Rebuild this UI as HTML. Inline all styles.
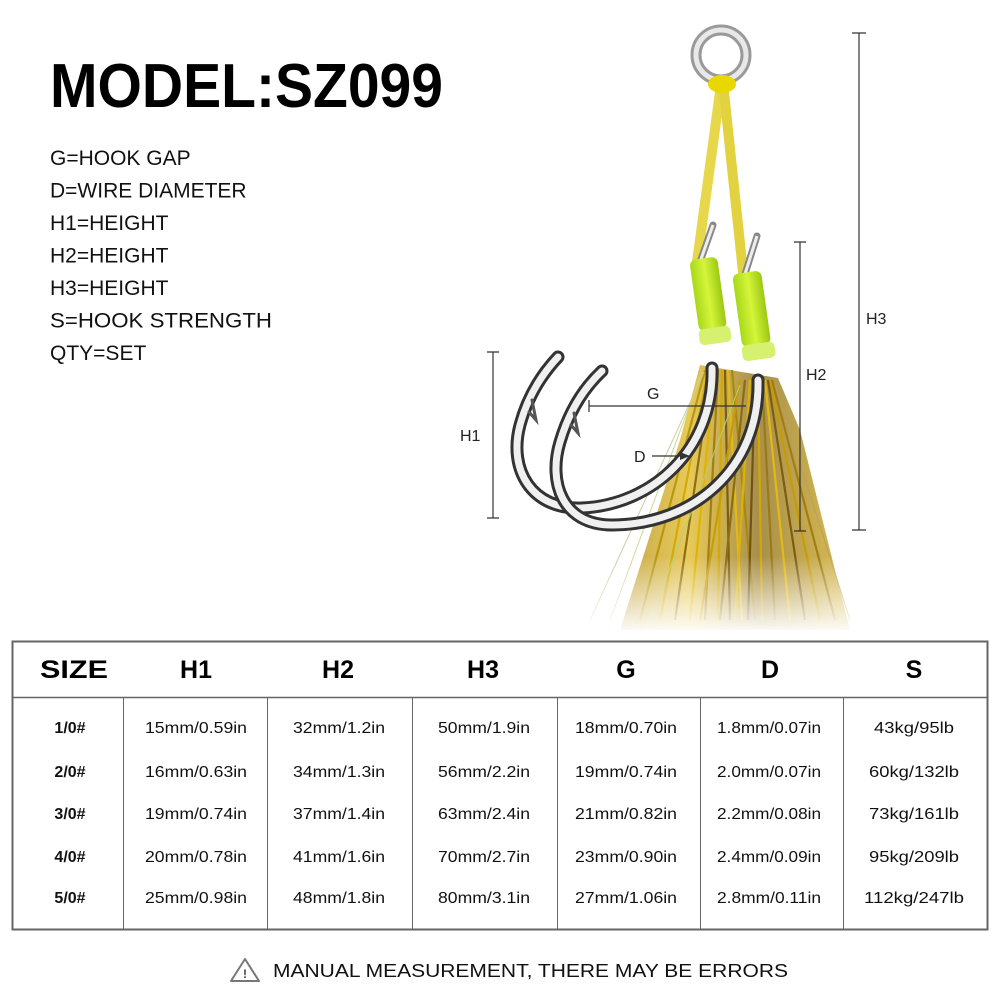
<!DOCTYPE html>
<html><head><meta charset="utf-8"><style>
html,body{margin:0;padding:0;background:#fff;width:1000px;height:1000px;overflow:hidden}
svg{display:block}
</style></head><body>
<svg width="1000" height="1000" viewBox="0 0 1000 1000" xmlns="http://www.w3.org/2000/svg" font-family="'Liberation Sans', sans-serif">
<defs>
<linearGradient id="fade" x1="0" y1="0" x2="0" y2="1">
<stop offset="0" stop-color="#fff" stop-opacity="0"/>
<stop offset="0.55" stop-color="#fff" stop-opacity="0"/>
<stop offset="1" stop-color="#fff" stop-opacity="1"/>
</linearGradient>
<linearGradient id="wrap" x1="0" y1="0" x2="1" y2="0">
<stop offset="0" stop-color="#a8d81a"/><stop offset="0.5" stop-color="#d4f53a"/><stop offset="1" stop-color="#9cc812"/>
</linearGradient>
<linearGradient id="gold" x1="0" y1="0" x2="1" y2="0">
<stop offset="0" stop-color="#b08a10"/><stop offset="0.3" stop-color="#e0b820"/><stop offset="0.6" stop-color="#8a6a10"/><stop offset="1" stop-color="#d0a818"/>
</linearGradient>
</defs>
<rect width="1000" height="1000" fill="#fff"/>

<text x="50" y="107" font-size="62" font-weight="bold" textLength="393" lengthAdjust="spacingAndGlyphs" fill="#000">MODEL:SZ099</text>
<g font-size="21" fill="#111">
<text x="50" y="165">G=HOOK GAP</text>
<text x="50" y="197.5">D=WIRE DIAMETER</text>
<text x="50" y="230">H1=HEIGHT</text>
<text x="50" y="262.5">H2=HEIGHT</text>
<text x="50" y="295">H3=HEIGHT</text>
<text x="50" y="327.5" textLength="222" lengthAdjust="spacingAndGlyphs">S=HOOK STRENGTH</text>
<text x="50" y="360">QTY=SET</text>
</g>

<!-- tassel -->
<path d="M700 365 L778 378 L800 430 L850 630 L620 630 L680 440 Z" fill="url(#gold)" opacity="0.75"/>
<g stroke-width="2.2" fill="none" opacity="0.95">
<path d="M705 370 L640 620" stroke="#b8960a"/>
<path d="M708 370 L660 620" stroke="#d6a900"/>
<path d="M712 370 L675 620" stroke="#8a6a10"/>
<path d="M715 370 L690 620" stroke="#e0b400"/>
<path d="M718 370 L705 620" stroke="#a07c10"/>
<path d="M722 370 L718 620" stroke="#d4a800"/>
<path d="M725 370 L730 620" stroke="#7a5a10"/>
<path d="M728 370 L742 620" stroke="#e6bb10"/>
<path d="M732 370 L755 620" stroke="#a8880c"/>
<path d="M740 380 L700 620" stroke="#c89c00"/>
<path d="M745 380 L720 620" stroke="#8a6a10"/>
<path d="M750 380 L735 620" stroke="#e0b400"/>
<path d="M755 380 L748 620" stroke="#6e5010"/>
<path d="M758 380 L762 620" stroke="#d6a900"/>
<path d="M762 380 L775 620" stroke="#9a7a10"/>
<path d="M765 380 L790 620" stroke="#e6bb10"/>
<path d="M768 380 L805 620" stroke="#7a5a10"/>
<path d="M770 380 L820 620" stroke="#c89c00"/>
<path d="M772 380 L835 620" stroke="#a07c10"/>
<path d="M702 372 L610 620" stroke="#c8d890" stroke-width="1"/>
<path d="M704 372 L590 620" stroke="#d0c8a0" stroke-width="1"/>
<path d="M740 385 L650 620" stroke="#b0d080" stroke-width="1"/>
<path d="M775 385 L850 620" stroke="#b8a060" stroke-width="1"/>
</g>
<rect x="560" y="460" width="320" height="175" fill="url(#fade)"/>

<!-- cord -->
<path d="M720 92 L697 262" stroke="#e6d84a" stroke-width="10" stroke-linecap="round" fill="none"/>
<path d="M724 92 L743 272" stroke="#e2d240" stroke-width="10" stroke-linecap="round" fill="none"/>
<!-- ring -->
<circle cx="721" cy="55" r="25" fill="none" stroke="#9a9a9a" stroke-width="11"/>
<circle cx="721" cy="55" r="25" fill="none" stroke="#e8e8e8" stroke-width="5"/>
<ellipse cx="722" cy="84" rx="14" ry="9" fill="#e8d800"/>
<!-- wires -->
<path d="M713 225 L700 262" stroke="#888" stroke-width="7" stroke-linecap="round"/>
<path d="M713 225 L700 262" stroke="#eee" stroke-width="3"/>
<path d="M757 236 L745 274" stroke="#888" stroke-width="7" stroke-linecap="round"/>
<path d="M757 236 L745 274" stroke="#eee" stroke-width="3"/>

<!-- hooks -->
<g fill="none" stroke-linecap="round">
<path d="M712 368 C714 450 652 505 582 508 C532 510 508 470 520 425 C528 395 543 373 558 357" stroke="#333" stroke-width="13"/>
<path d="M712 368 C714 450 652 505 582 508 C532 510 508 470 520 425 C528 395 543 373 558 357" stroke="#f0f0f0" stroke-width="7"/>
<path d="M758 380 C760 470 692 525 612 525 C562 525 548 482 560 442 C570 408 586 386 602 371" stroke="#333" stroke-width="13"/>
<path d="M758 380 C760 470 692 525 612 525 C562 525 548 482 560 442 C570 408 586 386 602 371" stroke="#f0f0f0" stroke-width="7"/>
<path d="M532 400 L536 420 L529 412" stroke="#555" stroke-width="3"/>
<path d="M574 413 L578 433 L571 425" stroke="#555" stroke-width="3"/>
</g>

<!-- wraps -->
<g transform="rotate(-8 709 300)"><rect x="695" y="258" width="28" height="72" rx="6" fill="url(#wrap)"/><rect x="694" y="328" width="32" height="16" rx="5" fill="#d6f070"/></g>
<g transform="rotate(-8 752 315)"><rect x="738" y="272" width="29" height="74" rx="6" fill="url(#wrap)"/><rect x="737" y="344" width="33" height="16" rx="5" fill="#d6f070"/></g>

<!-- dimension lines -->
<g stroke="#333" stroke-width="1.2" fill="none">
<path d="M859 33 V530 M852 33 H866 M852 530 H866"/>
<path d="M800 242 V531 M794 242 H806 M794 531 H806"/>
<path d="M493 352 V518 M487 352 H499 M487 518 H499"/>
<path d="M589 406 H746 M589 400 V412"/>
<path d="M652 456 H683"/>
</g>
<path d="M690 456 L680 452 L680 460 Z" fill="#333"/>
<g font-size="16" fill="#222">
<text x="866" y="324">H3</text>
<text x="806" y="380">H2</text>
<text x="460" y="441">H1</text>
<text x="647" y="399">G</text>
<text x="634" y="462">D</text>
</g>

<!-- table -->
<rect x="12.5" y="641.5" width="975" height="288" fill="none" stroke="#666" stroke-width="2"/>
<line x1="12" y1="697.5" x2="988" y2="697.5" stroke="#666" stroke-width="1.5"/>
<g stroke="#666" stroke-width="1">
<line x1="123.5" y1="698" x2="123.5" y2="929"/>
<line x1="267.5" y1="698" x2="267.5" y2="929"/>
<line x1="412.5" y1="698" x2="412.5" y2="929"/>
<line x1="557.5" y1="698" x2="557.5" y2="929"/>
<line x1="700.5" y1="698" x2="700.5" y2="929"/>
<line x1="843.5" y1="698" x2="843.5" y2="929"/>
</g>
<g font-size="25" font-weight="bold" text-anchor="middle" fill="#000">
<text x="74" y="678" textLength="68" lengthAdjust="spacingAndGlyphs">SIZE</text>
<text x="196" y="678">H1</text>
<text x="338" y="678">H2</text>
<text x="483" y="678">H3</text>
<text x="626" y="678">G</text>
<text x="770" y="678">D</text>
<text x="914" y="678">S</text>
</g>
<g font-size="16" text-anchor="middle" fill="#111">
<g font-weight="bold">
<text x="70" y="733">1/0#</text><text x="70" y="777">2/0#</text><text x="70" y="819">3/0#</text><text x="70" y="862">4/0#</text><text x="70" y="903">5/0#</text>
</g>
<text x="196" y="733" textLength="102" lengthAdjust="spacingAndGlyphs">15mm/0.59in</text>
<text x="196" y="777" textLength="102" lengthAdjust="spacingAndGlyphs">16mm/0.63in</text>
<text x="196" y="819" textLength="102" lengthAdjust="spacingAndGlyphs">19mm/0.74in</text>
<text x="196" y="862" textLength="102" lengthAdjust="spacingAndGlyphs">20mm/0.78in</text>
<text x="196" y="903" textLength="102" lengthAdjust="spacingAndGlyphs">25mm/0.98in</text>
<text x="339" y="733" textLength="92" lengthAdjust="spacingAndGlyphs">32mm/1.2in</text>
<text x="339" y="777" textLength="92" lengthAdjust="spacingAndGlyphs">34mm/1.3in</text>
<text x="339" y="819" textLength="92" lengthAdjust="spacingAndGlyphs">37mm/1.4in</text>
<text x="339" y="862" textLength="92" lengthAdjust="spacingAndGlyphs">41mm/1.6in</text>
<text x="339" y="903" textLength="92" lengthAdjust="spacingAndGlyphs">48mm/1.8in</text>
<text x="484" y="733" textLength="92" lengthAdjust="spacingAndGlyphs">50mm/1.9in</text>
<text x="484" y="777" textLength="92" lengthAdjust="spacingAndGlyphs">56mm/2.2in</text>
<text x="484" y="819" textLength="92" lengthAdjust="spacingAndGlyphs">63mm/2.4in</text>
<text x="484" y="862" textLength="92" lengthAdjust="spacingAndGlyphs">70mm/2.7in</text>
<text x="484" y="903" textLength="92" lengthAdjust="spacingAndGlyphs">80mm/3.1in</text>
<text x="626" y="733" textLength="102" lengthAdjust="spacingAndGlyphs">18mm/0.70in</text>
<text x="626" y="777" textLength="102" lengthAdjust="spacingAndGlyphs">19mm/0.74in</text>
<text x="626" y="819" textLength="102" lengthAdjust="spacingAndGlyphs">21mm/0.82in</text>
<text x="626" y="862" textLength="102" lengthAdjust="spacingAndGlyphs">23mm/0.90in</text>
<text x="626" y="903" textLength="102" lengthAdjust="spacingAndGlyphs">27mm/1.06in</text>
<text x="769" y="733" textLength="104" lengthAdjust="spacingAndGlyphs">1.8mm/0.07in</text>
<text x="769" y="777" textLength="104" lengthAdjust="spacingAndGlyphs">2.0mm/0.07in</text>
<text x="769" y="819" textLength="104" lengthAdjust="spacingAndGlyphs">2.2mm/0.08in</text>
<text x="769" y="862" textLength="104" lengthAdjust="spacingAndGlyphs">2.4mm/0.09in</text>
<text x="769" y="903" textLength="104" lengthAdjust="spacingAndGlyphs">2.8mm/0.11in</text>
<text x="914" y="733" textLength="80" lengthAdjust="spacingAndGlyphs">43kg/95lb</text>
<text x="914" y="777" textLength="90" lengthAdjust="spacingAndGlyphs">60kg/132lb</text>
<text x="914" y="819" textLength="90" lengthAdjust="spacingAndGlyphs">73kg/161lb</text>
<text x="914" y="862" textLength="90" lengthAdjust="spacingAndGlyphs">95kg/209lb</text>
<text x="914" y="903" textLength="100" lengthAdjust="spacingAndGlyphs">112kg/247lb</text>
</g>

<!-- footer -->
<path d="M245 959 L259 981 L231 981 Z" fill="none" stroke="#777" stroke-width="2" stroke-linejoin="round"/>
<text x="245" y="978" font-size="12" font-weight="bold" text-anchor="middle" fill="#444">!</text>
<text x="273" y="977" font-size="18" fill="#111" textLength="515" lengthAdjust="spacingAndGlyphs">MANUAL MEASUREMENT, THERE MAY BE ERRORS</text>
</svg>
</body></html>
